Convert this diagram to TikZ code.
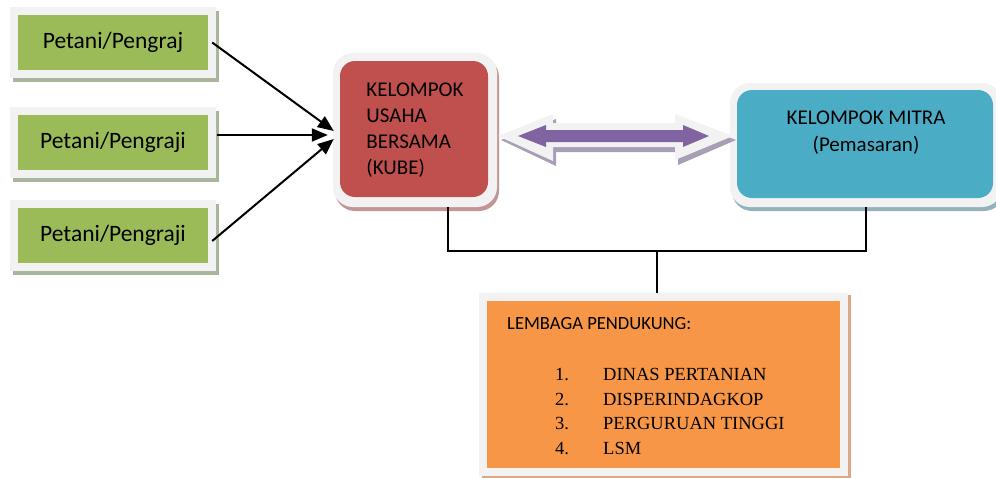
\documentclass[tikz,border=0pt]{standalone}
\usepackage{fontspec}
\setmainfont{Carlito}
\newfontfamily\timesf{Liberation Serif}
\usetikzlibrary{arrows.meta,calc,shadows}
\definecolor{frameg}{HTML}{F2F2F2}
\definecolor{kgreen}{HTML}{9BBB59}
\definecolor{kred}{HTML}{C0504D}
\definecolor{kblue}{HTML}{4BACC6}
\definecolor{korange}{HTML}{F79646}
\definecolor{kpurple}{HTML}{8064A2}
\definecolor{shgreen}{HTML}{A9B69C}
\definecolor{shred}{HTML}{C29696}
\definecolor{shblue}{HTML}{93B2BC}
\definecolor{shorange}{HTML}{D8A888}
\definecolor{shpurple}{HTML}{A89EB6}
\begin{document}
\begin{tikzpicture}[x=1pt,y=-1pt,
  greenbox/.style={fill=frameg, minimum width=206pt, minimum height=71pt, inner sep=0pt,
    drop shadow={shadow xshift=3pt,shadow yshift=-4pt,fill=shgreen,opacity=1},
    path picture={\fill[kgreen] ([xshift=8pt,yshift=-8pt]path picture bounding box.north west) rectangle ([xshift=-8pt,yshift=8pt]path picture bounding box.south east);},
    font=\fontsize{23.5}{28}\selectfont},
  kubebox/.style={fill=frameg, rounded corners=20pt, minimum width=164pt, minimum height=154pt, inner sep=0pt,
    drop shadow={shadow xshift=2pt,shadow yshift=-4pt,fill=shred,opacity=1},
    path picture={\fill[kred,rounded corners=15pt] ([xshift=7pt,yshift=-8pt]path picture bounding box.north west) rectangle ([xshift=-9pt,yshift=10pt]path picture bounding box.south east);},
    align=left, font=\fontsize{21}{26}\selectfont},
  mitrabox/.style={fill=frameg, rounded corners=20pt, minimum width=272pt, minimum height=124pt, inner sep=0pt,
    drop shadow={shadow xshift=2pt,shadow yshift=-4pt,fill=shblue,opacity=1},
    path picture={\fill[kblue,rounded corners=15pt] ([xshift=7pt,yshift=-7pt]path picture bounding box.north west) rectangle ([xshift=-9pt,yshift=9pt]path picture bounding box.south east);},
    align=center, font=\fontsize{21}{27}\selectfont},
  orangebox/.style={fill=frameg, minimum width=369pt, minimum height=183pt, inner sep=0pt,
    drop shadow={shadow xshift=3pt,shadow yshift=-2pt,fill=shorange,opacity=1},
    path picture={\fill[korange] ([xshift=8pt,yshift=-8pt]path picture bounding box.north west) rectangle ([xshift=-8pt,yshift=8pt]path picture bounding box.south east);}},
  inarrow/.style={line width=2pt, -{Triangle[length=16pt,width=13pt]}},
  conn/.style={line width=1.8pt},
  lbl/.style={anchor=base west, inner sep=0pt, font=\fontsize{18.6}{22}\selectfont},
  item/.style={anchor=base west, inner sep=0pt, font=\timesf\fontsize{18.5}{22}\selectfont}
]
\useasboundingbox (0,0) rectangle (996,477);

% green boxes
\node[greenbox] (g1) at (113,42.5) {Petani/Pengraj};
\node[greenbox] (g2) at (113,142.5) {Petani/Pengraji};
\node[greenbox] (g3) at (113,235.5) {Petani/Pengraji};

% main boxes
\node[kubebox] (kube) at (415,130) {KELOMPOK\\USAHA\\BERSAMA\\(KUBE)};
\node[mitrabox] (mitra) at (866,145) {KELOMPOK MITRA\\(Pemasaran)\\\mbox{}};
\node[orangebox] (lp) at (663.5,384.5) {};

% orange box text
\node[lbl] (lt) at (507,329.5) {LEMBAGA PENDUKUNG:};
\node[item] (n1) at (555,380.5) {1.};
\node[item] (n2) at (555,405) {2.};
\node[item] (n3) at (555,429.5) {3.};
\node[item] (n4) at (555,454) {4.};
\node[item] (i1) at (603,380.5) {DINAS PERTANIAN};
\node[item] (i2) at (603,405) {DISPERINDAGKOP};
\node[item] (i3) at (603,429.5) {PERGURUAN TINGGI};
\node[item] (i4) at (603,454) {LSM};

% input arrows
\draw[inarrow] ([xshift=-4pt]g1.east) -- ($(kube.west)+(1,1)$);
\draw[inarrow] ([xshift=1pt,yshift=7.5pt]g2.east) -- ($(kube.west)+(-5,5)$);
\draw[inarrow] ([xshift=-4pt,yshift=-5.5pt]g3.east) -- ($(kube.west)+(1,9)$);

% double arrow (shadow, frame, purple)
\fill[shpurple] (501,140) -- (556,119) -- (556,128) -- (678,128) -- (678,118) -- (736,140)
  -- (678,165) -- (678,152) -- (556,152) -- (556,166) -- cycle;
\fill[frameg] (498,136) -- (553,114) -- (553,123) -- (675,123) -- (675,114) -- (733,136)
  -- (675,160) -- (675,147) -- (553,147) -- (553,161) -- cycle;
\fill[kpurple] (518,136) -- (546,125) -- (546,130) -- (683,130) -- (683,125) -- (709,136)
  -- (683,147) -- (683,142) -- (546,142) -- (546,147) -- cycle;

% connectors to support box
\coordinate (j) at (657,251);
\draw[conn] ([xshift=33pt]kube.south) |- (j) -| (mitra.south);
\draw[conn] (j) -- (j |- lp.north);
\end{tikzpicture}
\end{document}
